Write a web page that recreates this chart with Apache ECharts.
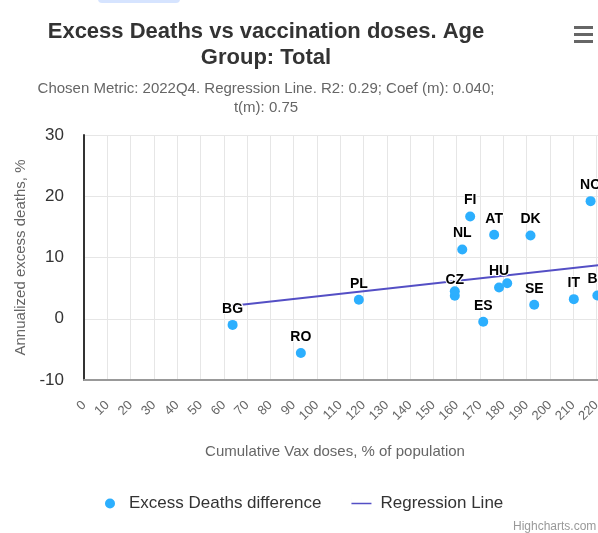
<!DOCTYPE html>
<html>
<head>
<meta charset="utf-8">
<script src="https://cdn.jsdelivr.net/npm/echarts@6/dist/echarts.min.js"></script>
<style>
  html, body { margin: 0; padding: 0; background: #fff; }
  #chart { width: 598px; height: 533px; }
</style>
</head>
<body>
<div id="chart"></div>
<script>
// countries (blank = label hidden behind a neighbour)
const countries = ['BG', 'RO', 'PL', 'CZ', '', 'NL', 'FI', 'ES', 'AT', 'HU', '', 'DK', 'SE', 'IT', 'NO', 'BE'];
const vaxDoses = [63.8, 93.1, 118, 159.2, 159.2, 162.4, 165.8, 171.4, 176.1, 178.2, 181.7, 191.7, 193.3, 210.3, 217.5, 220.4];
const excessDeaths = [-1.0, -5.6, 3.1, 3.75, 4.5, 11.3, 16.7, -0.5, 13.7, 5.1, 5.8, 13.6, 2.3, 3.2, 19.2, 3.8];
// regression line end points
const regX = [63.8, 240];
const regY = [2.13, 9.53];

const font = '"Liberation Sans", Arial, sans-serif';

const chart = echarts.init(document.getElementById('chart'));

const option = {
  animation: false,
  textStyle: { fontFamily: font },
  graphic: [
    { type: 'rect', shape: { x: 98, y: -8, width: 82, height: 11, r: 4 }, style: { fill: '#d6e4ff' } },
    {
      type: 'text', x: 266, y: 19,
      style: {
        text: 'Excess Deaths vs vaccination doses. Age\nGroup: Total',
        align: 'center', fontSize: 22, fontWeight: 'bold', fill: '#333', lineHeight: 26, fontFamily: font
      }
    },
    {
      type: 'text', x: 266, y: 79,
      style: {
        text: 'Chosen Metric: 2022Q4. Regression Line. R2: 0.29; Coef (m): 0.040;\nt(m): 0.75',
        align: 'center', fontSize: 15, fill: '#666', lineHeight: 19, fontFamily: font
      }
    },
    { type: 'rect', shape: { x: 574, y: 26, width: 19, height: 3 }, style: { fill: '#666' } },
    { type: 'rect', shape: { x: 574, y: 33, width: 19, height: 3 }, style: { fill: '#666' } },
    { type: 'rect', shape: { x: 574, y: 40, width: 19, height: 3 }, style: { fill: '#666' } },
    { type: 'text', x: 513, y: 521, style: { text: 'Highcharts.com', fontSize: 12, fill: '#999', fontFamily: font } }
  ],
  legend: {
    top: 490,
    left: 100,
    itemWidth: 20,
    itemHeight: 10,
    itemGap: 30,
    textStyle: { fontSize: 17, color: '#333', padding: [0, 0, 0, 4], fontFamily: font },
    data: [
      { name: 'Excess Deaths difference', icon: 'circle' },
      { name: 'Regression Line', icon: 'path://M0,4.2 H20 V5.8 H0 Z M0,0 H0.01 V10 H0 Z' }
    ]
  },
  grid: { left: 84, right: -45, top: 135, bottom: 153, outerBoundsMode: 'none' },
  xAxis: {
    type: 'value',
    min: 0,
    max: 240,
    interval: 10,
    name: 'Cumulative Vax doses, % of population',
    nameLocation: 'middle',
    nameGap: 64,
    nameTextStyle: { fontSize: 15, color: '#666', padding: [0, 57, 0, 0], fontFamily: font },
    axisLine: { show: true, onZero: false, lineStyle: { color: '#999', width: 2 } },
    axisTick: { show: false },
    axisLabel: { rotate: 45, fontSize: 13, color: '#666', margin: 23, fontFamily: font },
    splitLine: { show: true, lineStyle: { color: '#e6e6e6' } }
  },
  yAxis: {
    type: 'value',
    min: -10,
    max: 30,
    interval: 10,
    name: 'Annualized excess deaths, %',
    nameLocation: 'middle',
    nameGap: 56,
    nameTextStyle: { fontSize: 15, color: '#666', fontFamily: font },
    axisLine: { show: true, onZero: false, lineStyle: { color: '#333', width: 2 } },
    axisTick: { show: false },
    axisLabel: { fontSize: 17, color: '#333', margin: 20, fontFamily: font },
    splitLine: { show: true, lineStyle: { color: '#e6e6e6' } }
  },
  series: [
    {
      name: 'Regression Line',
      type: 'line',
      symbol: 'none',
      z: 2,
      lineStyle: { color: '#544fc5', width: 2 },
      itemStyle: { color: '#544fc5' },
      data: regX.map((x, i) => [x, regY[i]])
    },
    {
      name: 'Excess Deaths difference',
      type: 'scatter',
      symbolSize: 10,
      z: 3,
      itemStyle: { color: '#2caffe', opacity: 1 },
      label: {
        show: true,
        position: 'top',
        distance: 4,
        formatter: (p) => countries[p.dataIndex],
        fontSize: 14,
        fontWeight: 'bold',
        color: '#000',
        textBorderColor: '#fff',
        textBorderWidth: 2,
        fontFamily: font
      },
      data: vaxDoses.map((x, i) => [x, excessDeaths[i]])
    }
  ]
};

chart.setOption(option);
</script>
</body>
</html>
